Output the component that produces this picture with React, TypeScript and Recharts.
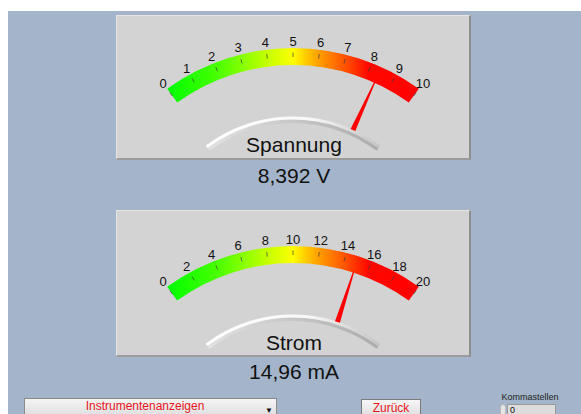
import { PieChart, Pie } from 'recharts'

const gaugeTitles = ['Spannung', 'Strom']
const gaugeUnits = ['V', 'mA']
const gaugeValues = [8.392, 14.96]
const gaugeMax = [10, 20]
const voltTicks = [0, 1, 2, 3, 4, 5, 6, 7, 8, 9, 10]
const currentTicks = [0, 2, 4, 6, 8, 10, 12, 14, 16, 18, 20]
const gaugeTicks = [voltTicks, currentTicks]

const START = 126
const END = 54
const centers = [
  { x: 293, y: 262 },
  { x: 293, y: 460 },
]
const panels = [
  { top: 15, height: 145 },
  { top: 210, height: 147 },
]

const RAD = Math.PI / 180
const polar = (cx: number, cy: number, r: number, a: number) => ({
  x: cx + r * Math.cos(a * RAD),
  y: cy - r * Math.sin(a * RAD),
})

const fmt = (v: number) => String(v).replace('.', ',')

const makeTickLabel = (ticks: number[]) => (props: any) => {
  const { cx, cy, startAngle, endAngle, index } = props
  const marks = [{ a: startAngle, t: ticks[index] }]
  if (index === ticks.length - 2) marks.push({ a: endAngle, t: ticks[index + 1] })
  return (
    <g>
      {marks.map((m) => {
        const p1 = polar(cx, cy, 205, m.a)
        const p2 = polar(cx, cy, 209.5, m.a)
        const lp = polar(cx, cy, 221, m.a)
        return (
          <g key={m.t}>
            <line x1={p1.x} y1={p1.y} x2={p2.x} y2={p2.y} stroke="#3a3a3a" strokeOpacity={0.7} strokeWidth={1} />
            <text
              x={lp.x}
              y={lp.y}
              textAnchor="middle"
              dominantBaseline="central"
              fontSize={13}
              fontFamily="'Liberation Sans', Arial, sans-serif"
              fill="#111"
            >
              {m.t}
            </text>
          </g>
        )
      })}
    </g>
  )
}

const renderNeedle = (props: any) => {
  const { cx, cy, endAngle, index } = props
  if (index !== 0) return null
  const a = endAngle
  const n = a + 90
  const base = polar(cx, cy, 145, a)
  const tip = polar(cx, cy, 198, a)
  const off = (p: { x: number; y: number }, w: number) => ({
    x: p.x + w * Math.cos(n * RAD),
    y: p.y - w * Math.sin(n * RAD),
  })
  const pts = [off(base, 2.6), off(tip, 0.6), off(tip, -0.6), off(base, -2.6)]
  return <polygon points={pts.map((p) => `${p.x},${p.y}`).join(' ')} fill="#ff0000" />
}

const fontUI = "'Liberation Sans', Arial, sans-serif"

export default function App() {
  return (
    <div style={{ position: 'relative', width: 581, height: 414, background: '#fff', overflow: 'hidden' }}>
      <style>{'body{margin:0}'}</style>
      <svg width={0} height={0} style={{ position: 'absolute' }}>
        <defs>
          <linearGradient id="band" x1="0" y1="0" x2="1" y2="0">
            <stop offset="0" stopColor="#00ff00" />
            <stop offset="0.19" stopColor="#44ff00" />
            <stop offset="0.29" stopColor="#80ff00" />
            <stop offset="0.39" stopColor="#c0ff00" />
            <stop offset="0.5" stopColor="#ffff00" />
            <stop offset="0.55" stopColor="#ffcc00" />
            <stop offset="0.6" stopColor="#ffa000" />
            <stop offset="0.71" stopColor="#ff5000" />
            <stop offset="0.8" stopColor="#ff0800" />
            <stop offset="1" stopColor="#ff0000" />
          </linearGradient>
          <linearGradient id="lip" x1="0" y1="0" x2="1" y2="0">
            <stop offset="0" stopColor="#ffffff" />
            <stop offset="0.6" stopColor="#f8f8f8" />
            <stop offset="1" stopColor="#c4c4c4" />
          </linearGradient>
          <linearGradient id="lipShade" x1="0" y1="0" x2="1" y2="0">
            <stop offset="0" stopColor="#e2e2e2" />
            <stop offset="0.6" stopColor="#c2c2c2" />
            <stop offset="1" stopColor="#acacac" />
          </linearGradient>
        </defs>
      </svg>
      <div style={{ position: 'absolute', left: 8, top: 11, right: 0, bottom: 0, background: '#a4b5cb' }} />
      {panels.map((p, i) => (
        <div
          key={i}
          style={{
            position: 'absolute',
            left: 116,
            top: p.top,
            width: 355,
            height: p.height,
            boxSizing: 'border-box',
            background: '#d3d3d3',
            borderTop: '1px solid #e4e4e4',
            borderLeft: '1px solid #e4e4e4',
            borderRight: '2px solid #8e8e8e',
            borderBottom: '2px solid #9c9c9c',
          }}
        />
      ))}
      <div style={{ position: 'absolute', left: 0, top: 0 }}>
        <PieChart width={581} height={414} margin={{ top: 0, right: 0, bottom: 0, left: 0 }}>
          {gaugeValues.map((v, i) => [
            <Pie
              key={`band${i}`}
              data={[{ name: 'band', value: gaugeMax[i] }]}
              dataKey="value"
              cx={centers[i].x}
              cy={centers[i].y}
              startAngle={START}
              endAngle={END}
              innerRadius={197}
              outerRadius={214}
              fill="url(#band)"
              stroke="none"
              isAnimationActive={false}
            />,
            <Pie
              key={`ticks${i}`}
              data={gaugeTicks[i].slice(1).map((t, k) => ({ name: `${gaugeTicks[i][k]}`, value: t - gaugeTicks[i][k] }))}
              dataKey="value"
              cx={centers[i].x}
              cy={centers[i].y}
              startAngle={START}
              endAngle={END}
              innerRadius={197}
              outerRadius={214}
              fill="none"
              stroke="none"
              label={makeTickLabel(gaugeTicks[i])}
              labelLine={false}
              isAnimationActive={false}
            />,
            <Pie
              key={`shade${i}`}
              data={[{ name: 'shade', value: 1 }]}
              dataKey="value"
              cx={centers[i].x}
              cy={centers[i].y}
              startAngle={127}
              endAngle={53}
              innerRadius={139}
              outerRadius={142.5}
              fill="url(#lipShade)"
              stroke="none"
              cornerRadius={1.5}
              isAnimationActive={false}
            />,
            <Pie
              key={`lip${i}`}
              data={[{ name: 'lip', value: 1 }]}
              dataKey="value"
              cx={centers[i].x}
              cy={centers[i].y}
              startAngle={127}
              endAngle={53}
              innerRadius={142.5}
              outerRadius={145.5}
              fill="url(#lip)"
              stroke="none"
              cornerRadius={1.5}
              isAnimationActive={false}
            />,
            <Pie
              key={`needle${i}`}
              data={[
                { name: 'value', value: v },
                { name: 'rest', value: gaugeMax[i] - v },
              ]}
              dataKey="value"
              cx={centers[i].x}
              cy={centers[i].y}
              startAngle={START}
              endAngle={END}
              innerRadius={145}
              outerRadius={198}
              fill="none"
              stroke="none"
              label={renderNeedle}
              labelLine={false}
              isAnimationActive={false}
            />,
          ])}
        </PieChart>
      </div>
      {gaugeTitles.map((t, i) => (
        <div
          key={t}
          style={{
            position: 'absolute',
            left: 144,
            width: 300,
            top: i === 0 ? 134 : 331.5,
            textAlign: 'center',
            fontFamily: fontUI,
            fontSize: 21,
            lineHeight: '21px',
            color: '#111',
          }}
        >
          {t}
        </div>
      ))}
      {gaugeValues.map((v, i) => (
        <div
          key={`v${i}`}
          style={{
            position: 'absolute',
            left: 144,
            width: 300,
            top: i === 0 ? 165 : 361,
            textAlign: 'center',
            fontFamily: fontUI,
            fontSize: 21,
            lineHeight: '21px',
            color: '#111',
          }}
        >
          {fmt(v)} {gaugeUnits[i]}
        </div>
      ))}
      {/* bottom controls */}
      <div
        style={{
          position: 'absolute',
          left: 24,
          top: 398,
          width: 253,
          height: 22,
          boxSizing: 'border-box',
          border: '1px solid #8a8a8a',
          background: 'linear-gradient(#f4f4f4, #dadada)',
        }}
      >
        <div
          style={{
            position: 'absolute',
            left: 0,
            width: 240,
            top: 1,
            textAlign: 'center',
            fontFamily: fontUI,
            fontSize: 12,
            lineHeight: '12px',
            color: '#e8141c',
          }}
        >
          Instrumentenanzeigen
        </div>
        <div style={{ position: 'absolute', left: 240, top: 8, fontSize: 8, lineHeight: '8px', color: '#111' }}>▼</div>
      </div>
      <div
        style={{
          position: 'absolute',
          left: 361,
          top: 399,
          width: 60,
          height: 22,
          boxSizing: 'border-box',
          border: '1px solid #7a7a7a',
          background: 'linear-gradient(#f6f6f6, #d8d8d8)',
          textAlign: 'center',
          fontFamily: fontUI,
          fontSize: 12,
          lineHeight: '12px',
          color: '#e8141c',
          paddingTop: 2,
        }}
      >
        Zurück
      </div>
      <div
        style={{
          position: 'absolute',
          left: 490,
          width: 80,
          top: 392.5,
          textAlign: 'center',
          fontFamily: fontUI,
          fontSize: 9,
          lineHeight: '9px',
          color: '#222',
        }}
      >
        Kommastellen
      </div>
      <div
        style={{
          position: 'absolute',
          left: 500,
          top: 404,
          width: 6,
          height: 12,
          boxSizing: 'border-box',
          border: '1px solid #b8b8b8',
          borderRadius: 3,
          background: '#e6e6e6',
        }}
      />
      <div
        style={{
          position: 'absolute',
          left: 507,
          top: 404,
          width: 49,
          height: 14,
          boxSizing: 'border-box',
          border: '1px solid #9a9a9a',
          background: '#dcdcdc',
          fontFamily: fontUI,
          fontSize: 9,
          lineHeight: '9px',
          color: '#111',
          paddingLeft: 2,
          paddingTop: 1,
        }}
      >
        0
      </div>
    </div>
  )
}
